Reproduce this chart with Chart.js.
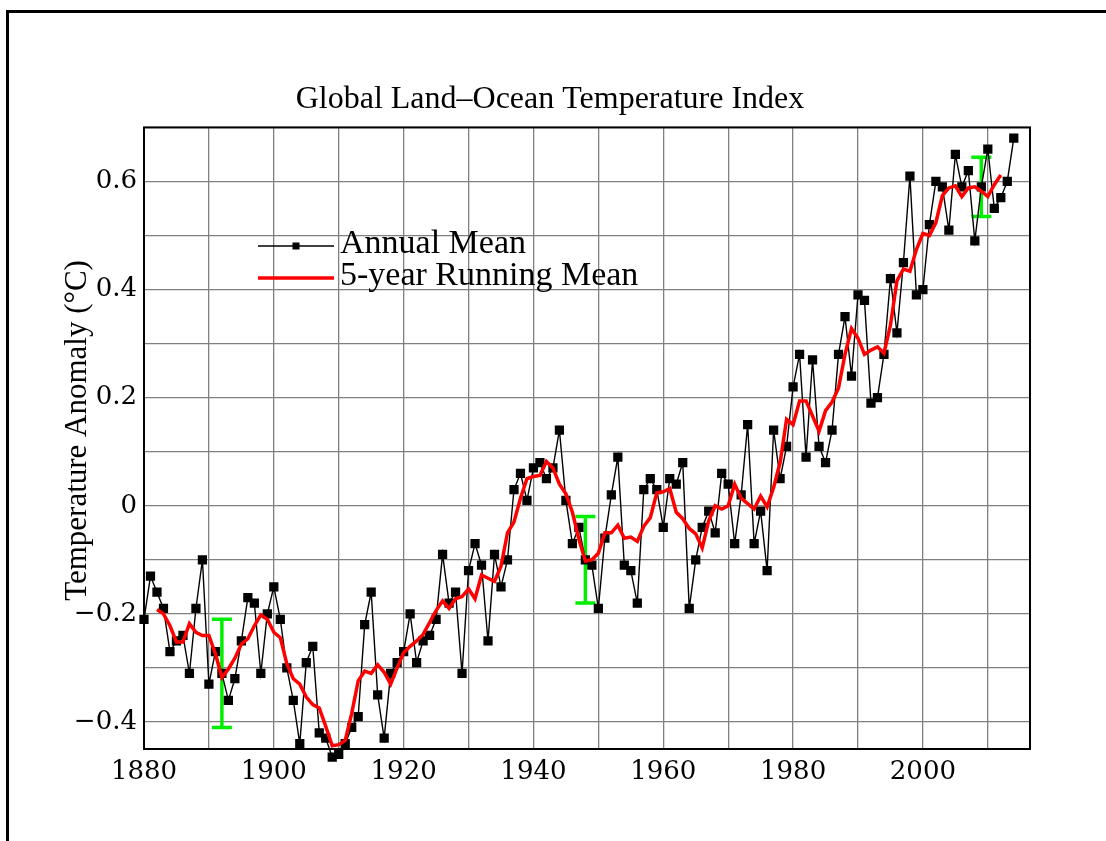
<!DOCTYPE html>
<html>
<head>
<meta charset="utf-8">
<title>Global Land–Ocean Temperature Index</title>
<script src="https://cdn.jsdelivr.net/npm/chart.js@4.4.1/dist/chart.umd.min.js"></script>
<style>
  html, body { margin: 0; padding: 0; background: #fff; overflow: hidden; }
  #wrap { position: relative; width: 1106px; height: 841px; }
  #frame { position: absolute; left: 6px; top: 10px; width: 2000px; height: 2000px;
           border: 3px solid #000; box-sizing: border-box; pointer-events: none; }
</style>
</head>
<body>
<div id="wrap">
  <canvas id="tempChart" width="1106" height="841"></canvas>
  <div id="frame"></div>
</div>
<script>
// annual mean anomaly (°C)
const annualYears = [
  1880, 1881, 1882, 1883, 1884, 1885, 1886, 1887, 1888, 1889,
  1890, 1891, 1892, 1893, 1894, 1895, 1896, 1897, 1898, 1899,
  1900, 1901, 1902, 1903, 1904, 1905, 1906, 1907, 1908, 1909,
  1910, 1911, 1912, 1913, 1914, 1915, 1916, 1917, 1918, 1919,
  1920, 1921, 1922, 1923, 1924, 1925, 1926, 1927, 1928, 1929,
  1930, 1931, 1932, 1933, 1934, 1935, 1936, 1937, 1938, 1939,
  1940, 1941, 1942, 1943, 1944, 1945, 1946, 1947, 1948, 1949,
  1950, 1951, 1952, 1953, 1954, 1955, 1956, 1957, 1958, 1959,
  1960, 1961, 1962, 1963, 1964, 1965, 1966, 1967, 1968, 1969,
  1970, 1971, 1972, 1973, 1974, 1975, 1976, 1977, 1978, 1979,
  1980, 1981, 1982, 1983, 1984, 1985, 1986, 1987, 1988, 1989,
  1990, 1991, 1992, 1993, 1994, 1995, 1996, 1997, 1998, 1999,
  2000, 2001, 2002, 2003, 2004, 2005, 2006, 2007, 2008, 2009,
  2010, 2011, 2012, 2013, 2014
];
const annualMean = [
  -0.21, -0.13, -0.16, -0.19, -0.27, -0.25, -0.24, -0.31, -0.19, -0.10,
  -0.33, -0.27, -0.31, -0.36, -0.32, -0.25, -0.17, -0.18, -0.31, -0.20,
  -0.15, -0.21, -0.30, -0.36, -0.44, -0.29, -0.26, -0.42, -0.43, -0.465,
  -0.46, -0.44, -0.41, -0.39, -0.22, -0.16, -0.35, -0.43, -0.31, -0.29,
  -0.27, -0.20, -0.29, -0.25, -0.24, -0.21, -0.09, -0.18, -0.16, -0.31,
  -0.12, -0.07, -0.11, -0.25, -0.09, -0.15, -0.10, 0.03, 0.06, 0.01,
  0.07, 0.08, 0.05, 0.07, 0.14, 0.01, -0.07, -0.04, -0.10, -0.11,
  -0.19, -0.06, 0.02, 0.09, -0.11, -0.12, -0.18, 0.03, 0.05, 0.03,
  -0.04, 0.05, 0.04, 0.08, -0.19, -0.10, -0.04, -0.01, -0.05, 0.06,
  0.04, -0.07, 0.02, 0.15, -0.07, -0.01, -0.12, 0.14, 0.05, 0.11,
  0.22, 0.28, 0.09, 0.27, 0.11, 0.08, 0.14, 0.28, 0.35, 0.24,
  0.39, 0.38, 0.19, 0.20, 0.28, 0.42, 0.32, 0.45, 0.61, 0.39,
  0.40, 0.52, 0.60, 0.59, 0.51, 0.65, 0.59, 0.62, 0.49, 0.59,
  0.66, 0.55, 0.57, 0.60, 0.68
];

// 5-year running mean (°C)
const runningYears = [
  1882, 1883, 1884, 1885, 1886, 1887, 1888, 1889,
  1890, 1891, 1892, 1893, 1894, 1895, 1896, 1897, 1898, 1899,
  1900, 1901, 1902, 1903, 1904, 1905, 1906, 1907, 1908, 1909,
  1910, 1911, 1912, 1913, 1914, 1915, 1916, 1917, 1918, 1919,
  1920, 1921, 1922, 1923, 1924, 1925, 1926, 1927, 1928, 1929,
  1930, 1931, 1932, 1933, 1934, 1935, 1936, 1937, 1938, 1939,
  1940, 1941, 1942, 1943, 1944, 1945, 1946, 1947, 1948, 1949,
  1950, 1951, 1952, 1953, 1954, 1955, 1956, 1957, 1958, 1959,
  1960, 1961, 1962, 1963, 1964, 1965, 1966, 1967, 1968, 1969,
  1970, 1971, 1972, 1973, 1974, 1975, 1976, 1977, 1978, 1979,
  1980, 1981, 1982, 1983, 1984, 1985, 1986, 1987, 1988, 1989,
  1990, 1991, 1992, 1993, 1994, 1995, 1996, 1997, 1998, 1999,
  2000, 2001, 2002, 2003, 2004, 2005, 2006, 2007, 2008, 2009,
  2010, 2011, 2012
];
const runningMean = [
  -0.192, -0.200, -0.222, -0.252, -0.252, -0.218, -0.234, -0.240,
  -0.240, -0.274, -0.318, -0.302, -0.282, -0.256, -0.246, -0.222, -0.202, -0.210,
  -0.234, -0.244, -0.292, -0.320, -0.330, -0.354, -0.368, -0.374, -0.408, -0.444,
  -0.442, -0.434, -0.384, -0.324, -0.306, -0.310, -0.294, -0.308, -0.330, -0.300,
  -0.272, -0.260, -0.250, -0.238, -0.216, -0.194, -0.176, -0.190, -0.172, -0.168,
  -0.154, -0.172, -0.128, -0.134, -0.140, -0.112, -0.050, -0.030, 0.014, 0.050,
  0.054, 0.056, 0.082, 0.070, 0.040, 0.022, -0.012, -0.062, -0.102, -0.100,
  -0.088, -0.050, -0.050, -0.036, -0.060, -0.058, -0.066, -0.038, -0.022, 0.024,
  0.026, 0.032, -0.012, -0.024, -0.042, -0.052, -0.078, -0.028, 0.000, -0.006,
  0.000, 0.040, 0.014, 0.004, -0.006, 0.018, -0.002, 0.034, 0.080, 0.160,
  0.150, 0.194, 0.194, 0.166, 0.138, 0.176, 0.192, 0.218, 0.280, 0.328,
  0.310, 0.280, 0.288, 0.294, 0.282, 0.334, 0.416, 0.438, 0.434, 0.474,
  0.504, 0.500, 0.524, 0.574, 0.588, 0.592, 0.572, 0.588, 0.590, 0.582,
  0.572, 0.594, 0.612
];

// uncertainty bars
const errYears = [1892, 1948, 2009];
const errLow = [-0.41, -0.18, 0.535];
const errHigh = [-0.21, -0.02, 0.645];

// axes
const xTickValues = [1880, 1890, 1900, 1910, 1920, 1930, 1940, 1950, 1960, 1970, 1980, 1990, 2000, 2010];
const xTickLabels = ['1880', '', '1900', '', '1920', '', '1940', '', '1960', '', '1980', '', '2000', ''];
const yTickValues = [-0.4, -0.3, -0.2, -0.1, 0, 0.1, 0.2, 0.3, 0.4, 0.5, 0.6, 0.7];
const yTickLabels = ['\u22120.4', '', '\u22120.2', '', '0', '', '0.2', '', '0.4', '', '0.6', ''];

const serif = '"Liberation Serif", "Times New Roman", serif';
const tickFont = '"DejaVu Serif", serif';

// green bars: top and bottom of each bar, with a gap between bars
let errPoints = [];
errYears.forEach((yr, i) => {
    if (i > 0) errPoints.push({ x: yr - 10, y: null });
    errPoints.push({ x: yr, y: errHigh[i] });
    errPoints.push({ x: yr, y: errLow[i] });
});

// box round the plot area
const plotFrame = {
    id: 'plotFrame',
    beforeDatasetsDraw(chart) {
        const a = chart.chartArea;
        const ctx = chart.ctx;
        ctx.save();
        ctx.strokeStyle = '#000';
        ctx.lineWidth = 2;
        ctx.strokeRect(a.left, a.top, a.right - a.left, a.bottom - a.top);
        ctx.restore();
    }
};

// legend sits inside the plot, top left
const legendRows = [246, 278];
const plotLegend = {
    id: 'plotLegend',
    afterDatasetsDraw(chart) {
        const ctx = chart.ctx;
        const items = [chart.data.datasets[1], chart.data.datasets[0]];
        ctx.save();
        items.forEach((ds, i) => {
            const y = legendRows[i];
            ctx.strokeStyle = ds.borderColor;
            ctx.lineWidth = ds.borderWidth;
            ctx.beginPath();
            ctx.moveTo(258, y);
            ctx.lineTo(334, y);
            ctx.stroke();
            if (ds.pointStyle === 'rect') {
                ctx.fillStyle = ds.pointBackgroundColor;
                ctx.fillRect(296 - 3.5, y - 3.5, 7, 7);
            }
            ctx.fillStyle = '#000';
            ctx.font = '34px ' + serif;
            ctx.textBaseline = 'alphabetic';
            ctx.textAlign = 'left';
            ctx.fillText(ds.label, 340, y + 7);
        });
        ctx.restore();
    }
};

const cvs = document.getElementById('tempChart');

let chart = new Chart(cvs, {
    type: 'line',
    data: {
        datasets: [{
            label: '5-year Running Mean',
            data: runningYears.map((yr, i) => ({ x: yr, y: runningMean[i] })),
            borderColor: '#ff0000',
            borderWidth: 3.5,
            pointRadius: 0,
            tension: 0,
            fill: false
        }, {
            label: 'Annual Mean',
            data: annualYears.map((yr, i) => ({ x: yr, y: annualMean[i] })),
            borderColor: '#000000',
            borderWidth: 1.4,
            // small rect with a thick border: same 9px square, but it is
            // still drawn when it pokes below the plot edge
            pointStyle: 'rect',
            pointRadius: 0.6,
            pointBackgroundColor: '#000000',
            pointBorderColor: '#000000',
            pointBorderWidth: 8.4,
            tension: 0,
            fill: false,
            clip: 24
        }, {
            label: 'uncertainty',
            data: errPoints,
            borderColor: '#00ee00',
            borderWidth: 3.5,
            pointStyle: 'line',
            pointRadius: 10,
            pointBorderColor: '#00ee00',
            pointBorderWidth: 3.5,
            spanGaps: false,
            tension: 0,
            fill: false
        }]
    },
    options: {
        responsive: false,
        devicePixelRatio: 1,
        animation: false,
        events: [],
        layout: {
            padding: { left: 70, right: 76, top: 80, bottom: 52 }
        },
        plugins: {
            legend: { display: false },
            tooltip: { enabled: false },
            title: {
                display: true,
                text: 'Global Land\u2013Ocean Temperature Index',
                color: '#000',
                font: { family: serif, size: 32, weight: 'normal', lineHeight: 1.2 },
                padding: { top: 0, bottom: 9 }
            }
        },
        scales: {
            x: {
                type: 'linear',
                min: 1880,
                max: 2016.5,
                afterBuildTicks: (scale) => {
                    scale.ticks = xTickValues.map((v) => ({ value: v }));
                },
                afterFit: (scale) => { scale.height = 40; },
                ticks: {
                    color: '#000',
                    font: { family: tickFont, size: 26 },
                    padding: 8,
                    maxRotation: 0,
                    autoSkip: false,
                    callback: (value, index) => xTickLabels[index]
                },
                grid: { color: '#808080', lineWidth: 1.3, drawTicks: false },
                border: { display: false }
            },
            y: {
                type: 'linear',
                min: -0.45,
                max: 0.7,
                afterBuildTicks: (scale) => {
                    scale.ticks = yTickValues.map((v) => ({ value: v }));
                },
                afterFit: (scale) => { scale.width = 74; },
                ticks: {
                    color: '#000',
                    font: { family: tickFont, size: 26 },
                    padding: 7,
                    autoSkip: false,
                    callback: (value, index) => yTickLabels[index]
                },
                grid: { color: '#808080', lineWidth: 1.3, drawTicks: false },
                border: { display: false },
                title: {
                    display: true,
                    // leading en space lifts the label a little, as in the original
                    text: '\u2002Temperature Anomaly (\u00b0C)',
                    color: '#000',
                    font: { family: serif, size: 31, lineHeight: 1 },
                    padding: { top: -8, bottom: 0 }
                }
            }
        }
    },
    plugins: [plotFrame, plotLegend]
});
</script>
</body>
</html>
